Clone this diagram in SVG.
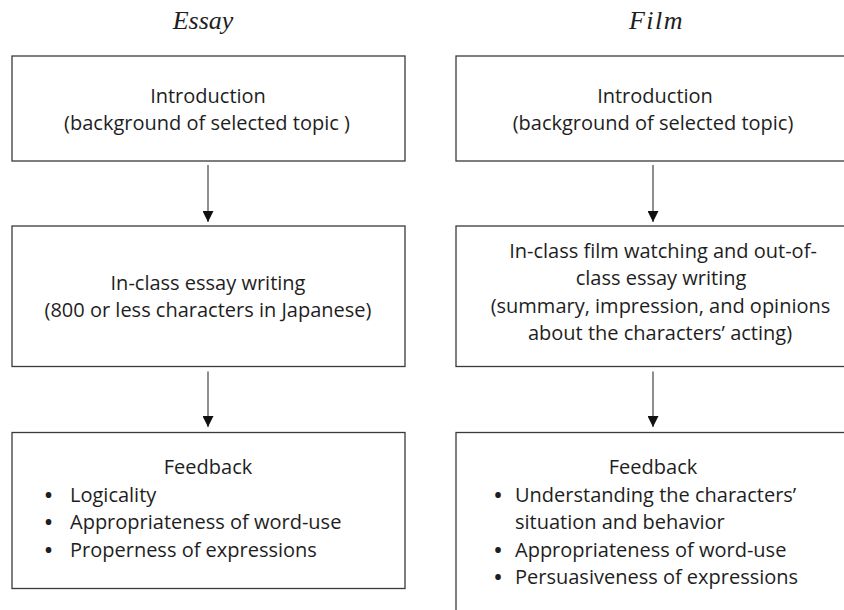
<svg xmlns="http://www.w3.org/2000/svg" width="844" height="610" viewBox="0 0 844 610">
<defs>
<style>
.box{fill:#fff;stroke:#3a3a3a;stroke-width:1.3}
.t{font-family:"Open Sans","Noto Sans",sans-serif;font-size:20px;fill:#1e1e1e}
.c{text-anchor:middle}
.b{font-family:"Open Sans","Noto Sans",sans-serif;font-size:20px;font-weight:700;fill:#1e1e1e;text-anchor:middle}
.title{font-family:"Liberation Serif","Times New Roman",serif;font-style:italic;font-size:26px;fill:#1e1e1e;text-anchor:middle}
.conn{stroke:#444;stroke-width:1.2;fill:none}
</style>
<marker id="ah" viewBox="0 0 11 11" refX="11" refY="5.5" markerWidth="11" markerHeight="11" markerUnits="userSpaceOnUse" orient="auto">
<path d="M0,0 L11,5.5 L0,11 z" fill="#111"/>
</marker>
</defs>
<rect width="844" height="610" fill="#fff"/>

<text class="title" x="203" y="29">Essay</text>
<text class="title" x="656.5" y="29" letter-spacing="1.5">Film</text>

<g id="essay-intro">
<rect class="box" x="12" y="56" width="393" height="105"/>
<text class="t c" x="208" y="103">Introduction</text>
<text class="t c" x="207" y="130">(background of selected topic )</text>
</g>

<g id="essay-writing">
<rect class="box" x="12" y="226" width="393" height="140.5"/>
<text class="t c" x="208" y="290">In-class essay writing</text>
<text class="t c" x="208" y="317">(800 or less characters in Japanese)</text>
</g>

<g id="essay-feedback">
<rect class="box" x="12" y="432.5" width="393" height="156"/>
<text class="t c" x="208" y="474">Feedback</text>
<text class="b" x="48.5" y="501.5">•</text>
<text class="t" x="70" y="501.5">Logicality</text>
<text class="b" x="48.5" y="529">•</text>
<text class="t" x="70" y="529">Appropriateness of word-use</text>
<text class="b" x="48.5" y="556.5">•</text>
<text class="t" x="70" y="556.5">Properness of expressions</text>
</g>

<g id="film-intro">
<rect class="box" x="456" y="56" width="410" height="105"/>
<text class="t c" x="655" y="103">Introduction</text>
<text class="t c" x="653" y="130">(background of selected topic)</text>
</g>

<g id="film-watching">
<rect class="box" x="456" y="226" width="410" height="140.5"/>
<text class="t c" x="663" y="257.5">In-class film watching and out-of-</text>
<text class="t c" x="661" y="285">class essay writing</text>
<text class="t c" x="660.5" y="312.5">(summary, impression, and opinions</text>
<text class="t c" x="660" y="340">about the characters’ acting)</text>
</g>

<g id="film-feedback">
<rect class="box" x="456" y="432.5" width="410" height="200"/>
<text class="t c" x="653" y="474">Feedback</text>
<text class="b" x="498" y="501.5">•</text>
<text class="t" x="515" y="501.5">Understanding the characters’</text>
<text class="t" x="515" y="529">situation and behavior</text>
<text class="b" x="498" y="556.5">•</text>
<text class="t" x="515" y="556.5">Appropriateness of word-use</text>
<text class="b" x="498" y="584">•</text>
<text class="t" x="515" y="584">Persuasiveness of expressions</text>
</g>

<g id="connectors">
<line class="conn" x1="208" y1="165" x2="208" y2="222" marker-end="url(#ah)"/>
<line class="conn" x1="208" y1="371.5" x2="208" y2="427" marker-end="url(#ah)"/>
<line class="conn" x1="653" y1="165" x2="653" y2="222" marker-end="url(#ah)"/>
<line class="conn" x1="653" y1="371.5" x2="653" y2="427" marker-end="url(#ah)"/>
</g>
</svg>
